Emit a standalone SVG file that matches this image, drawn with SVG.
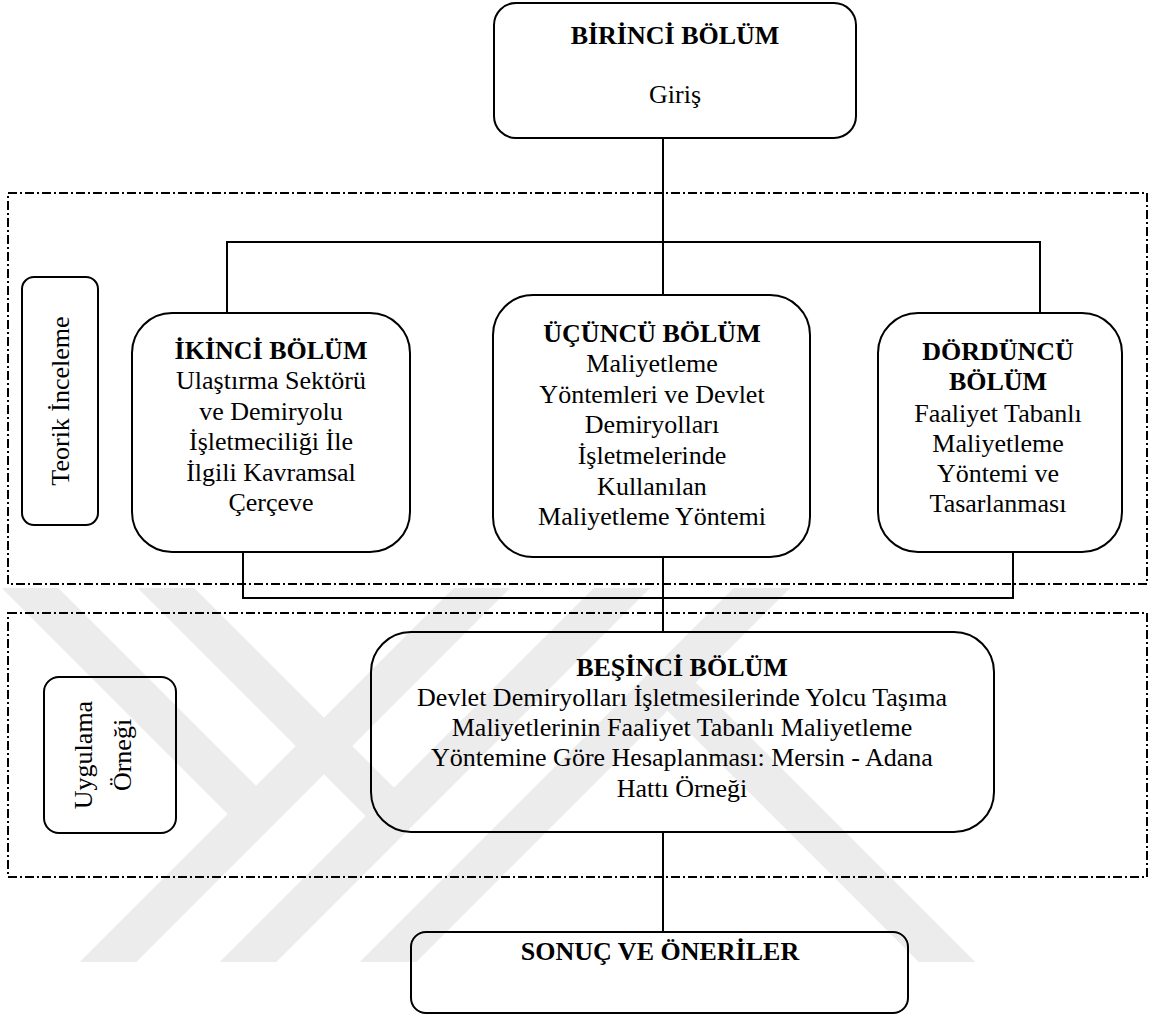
<svg xmlns="http://www.w3.org/2000/svg" width="1151" height="1016" viewBox="0 0 1151 1016">
  <defs>
    <clipPath id="wm-clip">
      <rect x="0" y="588" width="1151" height="374"/>
    </clipPath>
  </defs>
  <style>
    .box { fill: none; stroke: #000; stroke-width: 2; }
    .frame { fill: none; stroke: #000; stroke-width: 2; stroke-dasharray: 9 3 2 3; }
    .wire { fill: none; stroke: #000; stroke-width: 2; }
    .wm { fill: none; stroke: #ececec; stroke-width: 40; stroke-linecap: butt; }
    text { font-family: "Liberation Serif", "Times New Roman", serif; font-size: 26px; fill: #000; text-anchor: middle; }
    .b { font-weight: bold; }
  </style>

  <rect width="1151" height="1016" fill="#fff"/>

  <!-- faint background emblem: diagonal bands -->
  <g id="watermark" clip-path="url(#wm-clip)">
    <line class="wm" x1="90" y1="980" x2="500" y2="570"/>
    <line class="wm" x1="12" y1="570" x2="256" y2="814"/>
    <line class="wm" x1="230" y1="980" x2="640" y2="570"/>
    <line class="wm" x1="148" y1="570" x2="394" y2="816"/>
    <line class="wm" x1="370" y1="980" x2="780" y2="570"/>
    <line class="wm" x1="667" y1="682" x2="965" y2="980"/>
  </g>

  <!-- section frames -->
  <g id="frames">
    <rect class="frame" x="8" y="193" width="1139" height="391"/>
    <rect class="frame" x="8" y="613" width="1139" height="264"/>
  </g>

  <!-- connectors -->
  <g id="connectors">
    <line class="wire" x1="663" y1="138" x2="663" y2="295"/>
    <polyline class="wire" points="227,313 227,242 1040,242 1040,313"/>
    <polyline class="wire" points="243,552 243,598 1013,598 1013,552"/>
    <line class="wire" x1="663" y1="557" x2="663" y2="632"/>
    <line class="wire" x1="663" y1="832" x2="663" y2="932"/>
  </g>

  <g id="birinci">
    <rect class="box" x="494" y="3" width="362" height="135" rx="22"/>
    <text class="b" x="675" y="44">BİRİNCİ BÖLÜM</text>
    <text x="675" y="103">Giriş</text>
  </g>

  <g id="teorik">
    <rect class="box" x="22" y="277" width="76" height="248" rx="12"/>
    <text transform="translate(69,401) rotate(-90)">Teorik İnceleme</text>
  </g>

  <g id="ikinci">
    <rect class="box" x="132" y="313" width="278" height="239" rx="40"/>
    <text class="b" x="271" y="359">İKİNCİ BÖLÜM</text>
    <text x="271" y="389">Ulaştırma Sektörü</text>
    <text x="271" y="420">ve Demiryolu</text>
    <text x="271" y="450">İşletmeciliği İle</text>
    <text x="271" y="481">İlgili Kavramsal</text>
    <text x="271" y="511">Çerçeve</text>
  </g>

  <g id="ucuncu">
    <rect class="box" x="493" y="295" width="317" height="262" rx="40"/>
    <text class="b" x="652" y="342">ÜÇÜNCÜ BÖLÜM</text>
    <text x="652" y="372">Maliyetleme</text>
    <text x="652" y="403">Yöntemleri ve Devlet</text>
    <text x="652" y="433">Demiryolları</text>
    <text x="652" y="464">İşletmelerinde</text>
    <text x="652" y="495">Kullanılan</text>
    <text x="652" y="525">Maliyetleme Yöntemi</text>
  </g>

  <g id="dorduncu">
    <rect class="box" x="878" y="313" width="244" height="239" rx="40"/>
    <text class="b" x="998" y="360">DÖRDÜNCÜ</text>
    <text class="b" x="998" y="390">BÖLÜM</text>
    <text x="998" y="422">Faaliyet Tabanlı</text>
    <text x="998" y="452">Maliyetleme</text>
    <text x="998" y="482">Yöntemi ve</text>
    <text x="998" y="512">Tasarlanması</text>
  </g>

  <g id="uygulama">
    <rect class="box" x="44" y="677" width="132" height="156" rx="15"/>
    <text transform="translate(92,755) rotate(-90)">Uygulama</text>
    <text transform="translate(131,755) rotate(-90)">Örneği</text>
  </g>

  <g id="besinci">
    <rect class="box" x="371" y="632" width="623" height="200" rx="40"/>
    <text class="b" x="682" y="676">BEŞİNCİ BÖLÜM</text>
    <text x="682" y="706">Devlet Demiryolları İşletmesilerinde Yolcu Taşıma</text>
    <text x="682" y="736">Maliyetlerinin Faaliyet Tabanlı Maliyetleme</text>
    <text x="682" y="766">Yöntemine Göre Hesaplanması: Mersin - Adana</text>
    <text x="682" y="797">Hattı Örneği</text>
  </g>

  <g id="sonuc">
    <rect class="box" x="411" y="932" width="497" height="81" rx="15"/>
    <text class="b" x="660" y="960">SONUÇ VE ÖNERİLER</text>
  </g>
</svg>
